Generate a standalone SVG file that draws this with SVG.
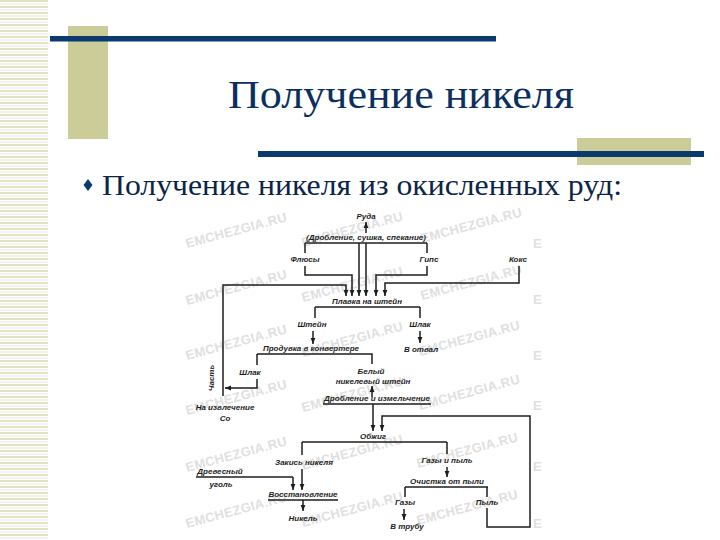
<svg xmlns="http://www.w3.org/2000/svg" width="720" height="540" viewBox="0 0 720 540">
<defs>
<pattern id="stripes" x="0" y="0" width="48" height="6" patternUnits="userSpaceOnUse">
<rect x="0" y="0" width="48" height="2" fill="#e2e2c6"/>
<rect x="0" y="3.5" width="48" height="1" fill="#ececdc"/>
</pattern>
<marker id="ah" viewBox="0 0 10 10" refX="10" refY="5" markerWidth="4" markerHeight="4" orient="auto">
<path d="M0,1 L10,5 L0,9 z" fill="#1e1e1e"/>
</marker>
<style>
.title{font-size:40px;fill:#0b2f5e;}
.bullet{font-size:30px;fill:#0b2448;}
.t{font-family:"Liberation Sans","DejaVu Sans",sans-serif;font-style:italic;font-weight:bold;font-size:8px;fill:#1e1e1e;text-anchor:middle;}
.wm{font-family:"Liberation Sans","DejaVu Sans",sans-serif;font-weight:bold;font-size:13px;fill:#e0e0e0;}
.ln{fill:none;stroke:#1e1e1e;stroke-width:1.5;}
.ar{fill:none;stroke:#1e1e1e;stroke-width:1.5;marker-end:url(#ah);}
</style>
</defs>
<rect width="720" height="540" fill="#ffffff"/>
<rect x="0" y="0" width="48" height="540" fill="url(#stripes)"/>
<g id="decor">
<rect x="68" y="26" width="40" height="113" fill="#cccc99"/>
<rect x="50" y="36" width="446" height="5.5" fill="#0b3a6e"/>
<rect x="577" y="138" width="114" height="27" fill="#cccc99"/>
<rect x="258" y="151" width="446" height="6" fill="#0b3a6e"/>
</g>
<g id="title"><text class="title" font-family="'Liberation Serif', 'Times New Roman', serif" x="228" y="108" textLength="346" lengthAdjust="spacingAndGlyphs">Получение никеля</text></g>
<g id="bullet">
<path d="M88,179 L92.5,185 L88,191 L83.5,185 z" fill="#0b3a6e"/>
<text class="bullet" font-family="'Liberation Serif', 'Times New Roman', serif" x="102" y="195" textLength="520" lengthAdjust="spacingAndGlyphs">Получение никеля из окисленных руд:</text>
</g>
<g id="watermark">
<text class="wm" x="187" y="248" transform="rotate(-15 187 248)" textLength="104">EMCHEZGIA.RU</text>
<text class="wm" x="303" y="247" transform="rotate(-15 303 247)" textLength="104">EMCHEZGIA.RU</text>
<text class="wm" x="422" y="243" transform="rotate(-15 422 243)" textLength="104">EMCHEZGIA.RU</text>
<text class="wm" x="533" y="248">E</text>
<text class="wm" x="187" y="305" transform="rotate(-15 187 305)" textLength="104">EMCHEZGIA.RU</text>
<text class="wm" x="303" y="302" transform="rotate(-15 303 302)" textLength="104">EMCHEZGIA.RU</text>
<text class="wm" x="422" y="300" transform="rotate(-15 422 300)" textLength="104">EMCHEZGIA.RU</text>
<text class="wm" x="533" y="304">E</text>
<text class="wm" x="187" y="360" transform="rotate(-15 187 360)" textLength="104">EMCHEZGIA.RU</text>
<text class="wm" x="303" y="357" transform="rotate(-15 303 357)" textLength="104">EMCHEZGIA.RU</text>
<text class="wm" x="420" y="356" transform="rotate(-15 420 356)" textLength="104">EMCHEZGIA.RU</text>
<text class="wm" x="533" y="360">E</text>
<text class="wm" x="187" y="415" transform="rotate(-15 187 415)" textLength="104">EMCHEZGIA.RU</text>
<text class="wm" x="303" y="412" transform="rotate(-15 303 412)" textLength="104">EMCHEZGIA.RU</text>
<text class="wm" x="420" y="410" transform="rotate(-15 420 410)" textLength="104">EMCHEZGIA.RU</text>
<text class="wm" x="533" y="410">E</text>
<text class="wm" x="187" y="472" transform="rotate(-15 187 472)" textLength="104">EMCHEZGIA.RU</text>
<text class="wm" x="303" y="470" transform="rotate(-15 303 470)" textLength="104">EMCHEZGIA.RU</text>
<text class="wm" x="418" y="468" transform="rotate(-15 418 468)" textLength="104">EMCHEZGIA.RU</text>
<text class="wm" x="533" y="471">E</text>
<text class="wm" x="187" y="528" transform="rotate(-15 187 528)" textLength="104">EMCHEZGIA.RU</text>
<text class="wm" x="303" y="527" transform="rotate(-15 303 527)" textLength="104">EMCHEZGIA.RU</text>
<text class="wm" x="418" y="525" transform="rotate(-15 418 525)" textLength="104">EMCHEZGIA.RU</text>
<text class="wm" x="533" y="528">E</text>
</g>
<g id="connectors">
<path class="ar" d="M366,233 L366,222"/>
<path class="ln" d="M305,243 L427,243"/>
<path class="ln" d="M305,243 L305,253"/>
<path class="ar" d="M305,266 L305,275 L352,275 L352,296"/>
<path class="ar" d="M359,243 L359,296"/>
<path class="ar" d="M366,243 L366,296"/>
<path class="ln" d="M427,243 L427,253"/>
<path class="ar" d="M427,266 L427,275 L376,275 L376,296"/>
<path class="ar" d="M519,266 L519,283 L385,283 L385,296"/>
<path class="ar" d="M223,396 L223,285 L346,285 L346,296"/>
<path class="ln" d="M315,307 L420,307"/>
<path class="ln" d="M315,307 L315,318"/>
<path class="ln" d="M420,307 L420,318"/>
<path class="ar" d="M313,331 L313,344"/>
<path class="ar" d="M420,331 L420,343"/>
<path class="ln" d="M257,354 L372,354 L372,364"/>
<path class="ln" d="M257,354 L257,365"/>
<path class="ar" d="M257,379 L257,388 L225,388"/>
<path class="ar" d="M372,397 L372,386"/>
<path class="ln" d="M323,404 L431,404"/>
<path class="ar" d="M373,404 L373,431"/>
<path class="ar" d="M487,508 L487,527 L530,527 L530,416 L382,416 L382,431"/>
<path class="ln" d="M487,487 L487,497"/>
<path class="ln" d="M302,442 L447,442"/>
<path class="ln" d="M302,442 L302,455"/>
<path class="ar" d="M302,469 L302,490"/>
<path class="ln" d="M196,477 L293,477"/>
<path class="ar" d="M293,477 L293,490"/>
<path class="ln" d="M268,500 L338,500"/>
<path class="ar" d="M303,500 L303,511"/>
<path class="ln" d="M447,442 L447,454"/>
<path class="ar" d="M447,467 L447,477"/>
<path class="ln" d="M405,487 L488,487"/>
<path class="ln" d="M405,487 L405,497"/>
<path class="ar" d="M404,509 L404,520"/>
</g>
<g id="n-ruda"><text class="t" x="366" y="219">Руда</text></g>
<g id="n-drob1"><text class="t" x="366" y="240" textLength="120" lengthAdjust="spacingAndGlyphs">(Дробление, сушка, спекание)</text></g>
<g id="n-flux"><text class="t" x="305" y="262">Флюсы</text></g>
<g id="n-gips"><text class="t" x="429" y="262">Гипс</text></g>
<g id="n-koks"><text class="t" x="518" y="262">Кокс</text></g>
<g id="n-plavka"><text class="t" x="367" y="304" textLength="70" lengthAdjust="spacingAndGlyphs">Плавка на штейн</text></g>
<g id="n-shtein"><text class="t" x="312" y="327">Штейн</text></g>
<g id="n-shlak1"><text class="t" x="420" y="327">Шлак</text></g>
<g id="n-otval"><text class="t" x="421" y="352">В отвал</text></g>
<g id="n-produvka"><text class="t" x="311" y="351" textLength="96" lengthAdjust="spacingAndGlyphs">Продувка в конвертере</text></g>
<g id="n-shlak2"><text class="t" x="250" y="375">Шлак</text></g>
<g id="n-chast"><text class="t" x="214" y="378" transform="rotate(-90 214 378)">Часть</text></g>
<g id="n-co"><text class="t" x="225" y="410">На извлечение</text><text class="t" x="225" y="421">Co</text></g>
<g id="n-bely"><text class="t" x="371" y="374">Белый</text><text class="t" x="373" y="384">никелевый штейн</text></g>
<g id="n-drob2"><text class="t" x="377" y="401" textLength="106" lengthAdjust="spacingAndGlyphs">Дробление и измельчение</text></g>
<g id="n-obzhig"><text class="t" x="373" y="439">Обжиг</text></g>
<g id="n-zakis"><text class="t" x="304" y="465">Закись никеля</text></g>
<g id="n-ugol"><text class="t" x="220" y="474">Древесный</text><text class="t" x="221" y="487">уголь</text></g>
<g id="n-vosst"><text class="t" x="303" y="497">Восстановление</text></g>
<g id="n-nikel"><text class="t" x="303" y="521">Никель</text></g>
<g id="n-gazy-pyl"><text class="t" x="447" y="463">Газы и пыль</text></g>
<g id="n-ochistka"><text class="t" x="447" y="484">Очистка от пыли</text></g>
<g id="n-gazy"><text class="t" x="405" y="505">Газы</text></g>
<g id="n-truba"><text class="t" x="407" y="529">В трубу</text></g>
<g id="n-pyl"><text class="t" x="487" y="505">Пыль</text></g>
</svg>
